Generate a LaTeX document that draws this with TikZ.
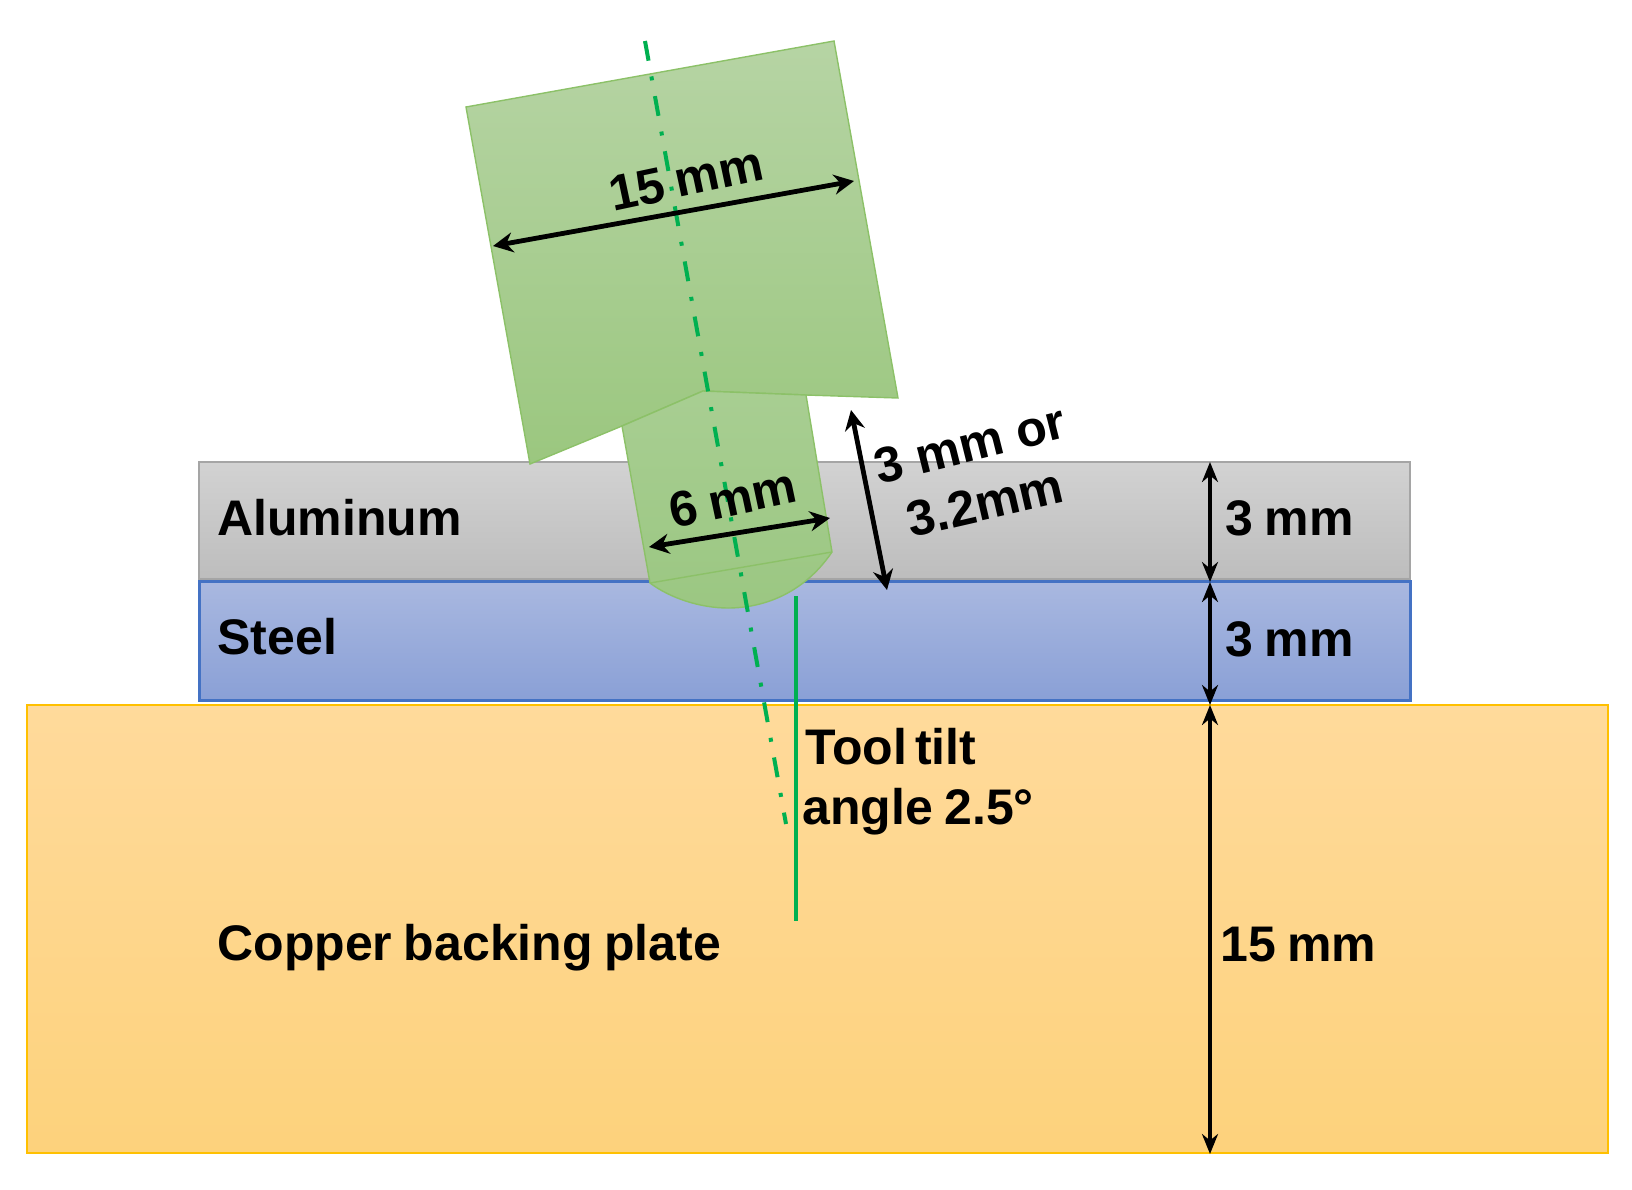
\documentclass[tikz,border=0pt]{standalone}
\usepackage{fontspec}
\setmainfont{Liberation Sans}
\usetikzlibrary{arrows.meta}
\definecolor{toolTop}{HTML}{B6D4A4}
\definecolor{toolBot}{HTML}{9BC77F}
\definecolor{shankTop}{HTML}{A8CE92}
\definecolor{shankBot}{HTML}{9BC782}
\definecolor{toolEdge}{HTML}{8CC168}
\definecolor{axisGreen}{HTML}{00B050}
\definecolor{copperTop}{HTML}{FFDA9B}
\definecolor{copperBot}{HTML}{FDD27C}
\definecolor{copperEdge}{HTML}{FFC000}
\definecolor{alTop}{HTML}{D2D2D2}
\definecolor{alBot}{HTML}{BDBDBD}
\definecolor{alEdge}{HTML}{A5A5A5}
\definecolor{stTop}{HTML}{A9B8E0}
\definecolor{stBot}{HTML}{8AA0D6}
\definecolor{stEdge}{HTML}{4472C4}
\newcommand\tightwords{\spaceskip=0.16em\relax}
\newcommand\midwords{\spaceskip=0.23em\relax}
\tikzset{
  lab/.style={inner sep=0pt,font=\fontsize{25}{30}\selectfont\bfseries\tightwords},
  labw/.style={lab,anchor=base west},
  dim/.style={line width=2.4pt,black,{Stealth[length=10pt,width=10pt]}-{Stealth[length=10pt,width=10pt]}},
  vdim/.style={line width=2pt,black,{Stealth[length=10pt,width=8pt]}-{Stealth[length=10pt,width=8pt]}},
  toolface/.style={draw=toolEdge,line width=0.7pt,top color=toolTop,bottom color=toolBot},
  shankface/.style={draw=toolEdge,line width=0.7pt,top color=shankTop,bottom color=shankBot},
  axisline/.style={draw=axisGreen,line width=2pt,dash pattern=on 10pt off 8pt on 2pt off 8pt},
  plumb/.style={draw=axisGreen,line width=1.8pt},
}
\begin{document}
\begin{tikzpicture}[x=0.5pt,y=-0.5pt]
\useasboundingbox (0,0) rectangle (1632,1189);
% plates
\path[draw=copperEdge,line width=1.4pt,top color=copperTop,bottom color=copperBot]
  (27,705) rectangle (1608,1153);
\path[draw=alEdge,line width=1.2pt,top color=alTop,bottom color=alBot]
  (199,462) rectangle (1410,579);
\path[draw=stEdge,line width=1.5pt,top color=stTop,bottom color=stBot]
  (199,581) rectangle (1410,700);
% tool
\path[toolface] (466,107) -- (834,41) -- (898,398) -- (806,395) -- (703,391) -- (622,426) -- (530,464) -- cycle;
\path[shankface] (622,426) -- (703,391) -- (806,395) -- (832,552)
  .. controls (802,596) and (760,608) .. (728,608)
  .. controls (700,608) and (670,598) .. (650,583) -- cycle;
\draw[draw=toolEdge,line width=0.7pt] (650,583) -- (832,552);
% axes
\coordinate (axisTop) at (645,41);
\coordinate (axisEnd) at (786,824);
\coordinate (plumbTop) at (796,596);
\coordinate (plumbEnd) at (796,921);
\draw[axisline] (axisTop) -- (axisEnd);
\draw[plumb] (plumbTop) -- (plumbEnd);
% dimensions
\coordinate (a15) at (493,246); \coordinate (b15) at (854,181);
\coordinate (a6) at (649,547); \coordinate (b6) at (830,518);
\coordinate (a3) at (851,410); \coordinate (b3) at (887,590);
\coordinate (r0) at (1210,462); \coordinate (r1) at (1210,582); \coordinate (r2) at (1210,705); \coordinate (r3) at (1210,1154);
\draw[dim] (a15) -- (b15);
\draw[dim] (a6) -- (b6);
\draw[dim] (a3) -- (b3);
\draw[vdim] (r0) -- (r1);
\draw[vdim] (r1) -- (r2);
\draw[vdim] (r2) -- (r3);
% labels
\node[labw] (alu) at (217,535) {Aluminum};
\node[labw] (ste) at (217,654) {Steel};
\node[labw] (cop) at (217,960) {\midwords Copper backing plate};
\node[labw] (m1) at (1225,535) {\midwords 3 mm};
\node[labw] (m2) at (1225,656) {\midwords 3 mm};
\node[labw] (m3) at (1220,961) {\midwords 15 mm};
\node[labw] (tt) at (805,764) {Tool tilt};
\node[labw] (ang) at (802,824) {\midwords angle 2.5°};
\node[lab,rotate=12] (l15) at (686,179) {\midwords 15 mm};
\node[lab,rotate=12] (l6) at (733,498) {\midwords 6 mm};
\node[lab,rotate=14] (l3a) at (970,444) {\spaceskip=0.28em\relax 3 mm or};
\node[lab,rotate=13] (l3b) at (985,503) {3.2mm};
\end{tikzpicture}
\end{document}
